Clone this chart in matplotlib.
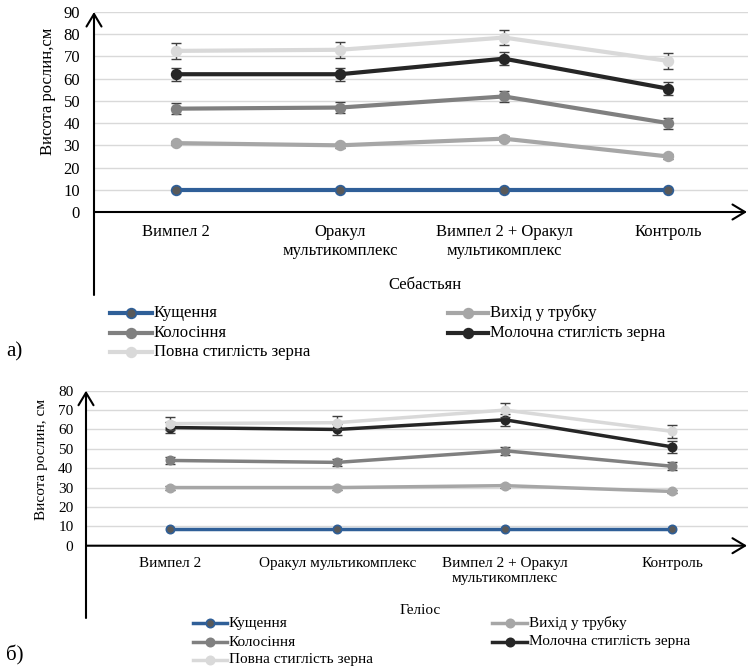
import matplotlib
matplotlib.use("Agg")
import matplotlib.pyplot as plt
from matplotlib.lines import Line2D
from matplotlib.patches import FancyArrowPatch

plt.rcParams['font.family'] = ['Liberation Serif', 'DejaVu Serif']

# ---------------- data ----------------
categories_a = ["Вимпел 2", "Оракул\nмультикомплекс", "Вимпел 2 + Оракул\nмультикомплекс", "Контроль"]
categories_b = ["Вимпел 2", "Оракул мультикомплекс", "Вимпел 2 + Оракул\nмультикомплекс", "Контроль"]
series_names = ["Кущення", "Вихід у трубку", "Колосіння", "Молочна стиглість зерна", "Повна стиглість зерна"]

# Себастьян
kushchennia_a = [10, 10, 10, 10]
vykhid_a = [31, 30, 33, 25]
kolosinnia_a = [46.5, 47, 52, 40]
molochna_a = [62, 62, 69, 55.5]
povna_a = [72.5, 73, 78.5, 68]
err_a = [0, 1, 2.5, 3, 3.5]

# Геліос
kushchennia_b = [8.5, 8.5, 8.5, 8.5]
vykhid_b = [30, 30, 31, 28]
kolosinnia_b = [44, 43, 49, 41]
molochna_b = [61, 60, 65, 51]
povna_b = [63, 63.5, 70, 59]
err_b = [0, 1, 2, 3, 3.5]

yticks_a = list(range(0, 91, 10))
yticks_b = list(range(0, 81, 10))

line_colors = ["#2F5F98", "#A6A6A6", "#808080", "#262626", "#D9D9D9"]
marker_faces = ["#595959", "#A6A6A6", "#808080", "#262626", "#D9D9D9"]

W, H = 748, 672
fig = plt.figure(figsize=(W / 100, H / 100), dpi=100)


def fx(x):
    return x / W


def fy(y):
    return 1 - y / H


def panel(left, right, y0, ytop, ymax, cats, data, errs, yticks, fs, lw, ms, label_pad, ylab, ylab_xy,
          vline_bottom, group, group_xy, legend_rows, leg_left, leg_right, leg_fs, panel_tag, tag_xy, lsp):
    ax = fig.add_axes([fx(left), fy(y0), fx(right - left), (y0 - ytop) / H])
    ax.set_xlim(-0.5, len(cats) - 0.5)
    ax.set_ylim(0, ymax)
    ax.set_yticks(yticks)
    ax.set_yticklabels([str(t) for t in yticks], fontsize=fs)
    ax.set_xticks(range(len(cats)))
    ax.set_xticklabels(cats, fontsize=fs, linespacing=lsp)
    ax.tick_params(axis='both', length=0)
    ax.tick_params(axis='x', pad=label_pad)
    ax.tick_params(axis='y', pad=label_pad + 1)
    ax.grid(axis='y', color="#D9D9D9", lw=1.0)
    ax.set_axisbelow(True)
    for s in ax.spines.values():
        s.set_visible(False)
    ax.patch.set_visible(False)
    x = list(range(len(cats)))
    for i, vals in enumerate(data):
        if errs[i] > 0:
            ax.errorbar(x, vals, yerr=[errs[i]] * len(vals), fmt='none', ecolor="#404040",
                        elinewidth=1.0, capsize=3.5, capthick=1.0, zorder=2 + i)
        ax.plot(x, vals, color=line_colors[i], lw=lw, marker='o', ms=ms,
                mfc=marker_faces[i], mec=line_colors[i], mew=1.2, zorder=2 + i)
    # axes with arrows
    fig.add_artist(FancyArrowPatch((fx(left), fy(vline_bottom)), (fx(left), fy(ytop)),
                                   transform=fig.transFigure, arrowstyle='->,head_length=5,head_width=3',
                                   lw=1.5, color='black', mutation_scale=1.8, shrinkA=0, shrinkB=0))
    fig.add_artist(FancyArrowPatch((fx(left), fy(y0)), (fx(747), fy(y0)),
                                   transform=fig.transFigure, arrowstyle='->,head_length=5,head_width=3',
                                   lw=1.5, color='black', mutation_scale=1.8, shrinkA=0, shrinkB=0))
    fig.text(fx(ylab_xy[0]), fy(ylab_xy[1]), ylab, rotation=90, ha='center', va='center', fontsize=fs)
    fig.text(fx(group_xy[0]), fy(group_xy[1]), group, ha='center', va='center', fontsize=fs)
    # legend
    positions = [(0, 0), (1, 0), (0, 1), (1, 1), (0, 2)]
    for i, name in enumerate(series_names):
        col, row = positions[i]
        x0, x1 = (leg_left if col == 0 else leg_right)
        yy = legend_rows[row]
        fig.add_artist(Line2D([fx(x0), fx(x1)], [fy(yy), fy(yy)], transform=fig.transFigure,
                              color=line_colors[i], lw=lw))
        fig.add_artist(Line2D([fx((x0 + x1) / 2)], [fy(yy)], transform=fig.transFigure,
                              marker='o', ms=ms, mfc=marker_faces[i], mec=line_colors[i], mew=1.2))
        fig.text(fx(x1 + 2), fy(yy), name, ha='left', va='center', fontsize=leg_fs)
    fig.text(fx(tag_xy[0]), fy(tag_xy[1]), panel_tag, ha='left', va='center', fontsize=15)
    return ax


panel(94, 750, 212, 12, 90, categories_a,
      [kushchennia_a, vykhid_a, kolosinnia_a, molochna_a, povna_a], err_a, yticks_a,
      fs=12, lw=3.0, ms=7.0, label_pad=9, ylab="Висота рослин,см", ylab_xy=(48, 91),
      vline_bottom=295, group="Себастьян", group_xy=(425, 285),
      legend_rows=[313, 333, 352], leg_left=(110, 152), leg_right=(448, 488), leg_fs=12,
      panel_tag="а)", tag_xy=(6, 352), lsp=1.2)

panel(86, 756, 545.7, 390.7, 80, categories_b,
      [kushchennia_b, vykhid_b, kolosinnia_b, molochna_b, povna_b], err_b, yticks_b,
      fs=11, lw=2.5, ms=6.0, label_pad=8, ylab="Висота рослин, см", ylab_xy=(42, 459),
      vline_bottom=618, group="Геліос", group_xy=(420, 610),
      legend_rows=[623, 642, 660], leg_left=(193, 227), leg_right=(492, 527), leg_fs=11,
      panel_tag="б)", tag_xy=(6, 655), lsp=1.18)

fig.savefig("out.png", dpi=100)
